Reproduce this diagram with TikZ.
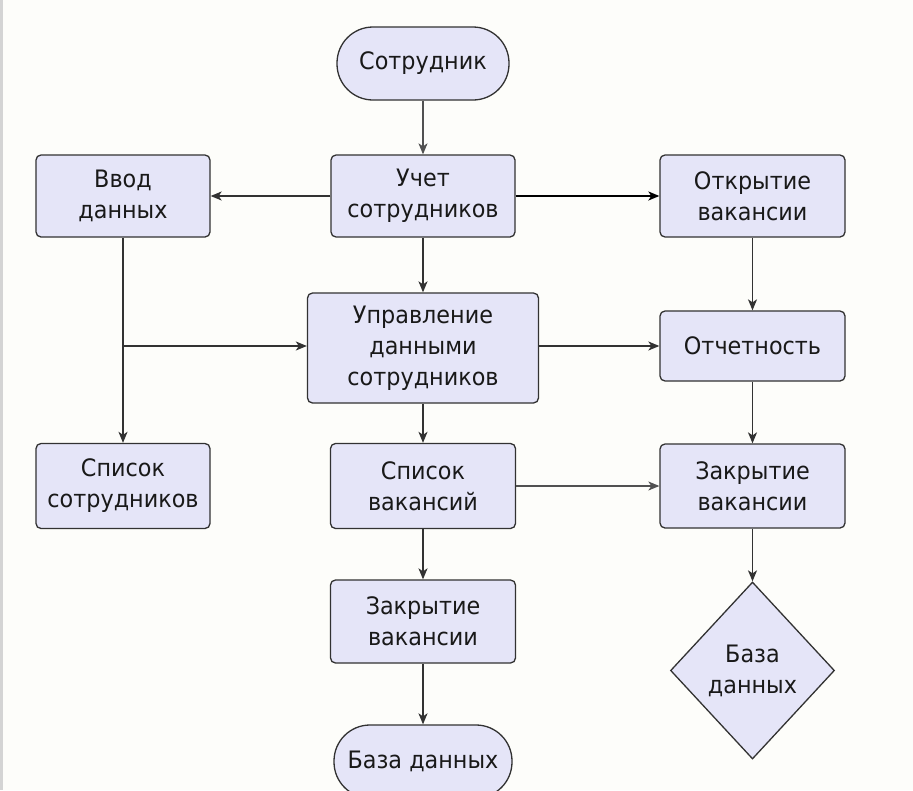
\documentclass[tikz,border=0pt]{standalone}
\usepackage{fontspec}
\setmainfont{DejaVu Sans}[FakeStretch=0.93]
\usetikzlibrary{arrows.meta,shapes.geometric}
\definecolor{boxfill}{RGB}{229,229,248}
\definecolor{boxline}{RGB}{50,50,50}
\definecolor{bgc}{RGB}{253,253,250}
\definecolor{txt}{RGB}{25,25,25}
\tikzset{
  base/.style={draw=boxline, fill=boxfill, line width=1.3pt, text=txt, align=center,
    font=\fontsize{24}{31}\selectfont, inner sep=0pt},
  procbox/.style={base, rectangle, rounded corners=5pt},
  termbox/.style={base, rectangle, rounded corners=36pt},
  decbox/.style={base, diamond, aspect=0.93},
  arr/.style={draw=boxline, line width=1.4pt, -{Stealth[length=11pt,width=9pt,inset=3pt]}},
  thinarr/.style={arr, draw=boxline!85, line width=1.1pt},
  boldarr/.style={arr, draw=black, line width=1.8pt}
}
\begin{document}
\begin{tikzpicture}[x=1pt,y=-1pt]
\useasboundingbox (0,0) rectangle (913,790);
\clip (0,0) rectangle (913,790);
\fill[bgc] (0,0) rectangle (913,790);
\fill[black!17] (0,0) rectangle (2.5,790);

\node[termbox, minimum width=172pt, minimum height=73pt] (sotr) at (423,63.5) {Сотрудник};
\node[procbox, minimum width=184pt, minimum height=82pt] (uchet) at (423,196) {Учет\\сотрудников};
\node[procbox, minimum width=174pt, minimum height=82pt] (vvod) at (123,196) {Ввод\\данных};
\node[procbox, minimum width=185pt, minimum height=82pt] (otkr) at (752.5,196) {Открытие\\вакансии};
\node[procbox, minimum width=231pt, minimum height=110pt] (upr) at (423,348) {Управление\\данными\\сотрудников};
\node[procbox, minimum width=185pt, minimum height=70pt] (otch) at (752.5,346) {Отчетность};
\node[procbox, minimum width=174pt, minimum height=85pt] (spsotr) at (123,486) {Список\\сотрудников};
\node[procbox, minimum width=185pt, minimum height=85pt] (spvak) at (423,486) {Список\\вакансий};
\node[procbox, minimum width=185pt, minimum height=84pt] (zakrR) at (752.5,486) {Закрытие\\вакансии};
\node[procbox, minimum width=185pt, minimum height=83pt] (zakrM) at (423,621.5) {Закрытие\\вакансии};
\node[decbox, minimum width=164pt, minimum height=177pt] (bdR) at (752.5,670.5) {База\\данных};
\node[termbox, minimum width=178pt, minimum height=73pt] (bdM) at (423,761.5) {База данных};

\draw[thinarr] (sotr) -- (uchet);
\draw[arr] (uchet.west) -- (vvod.east);
\draw[boldarr] (uchet.east) -- (otkr.west);
\draw[arr] (uchet) -- (upr);
\draw[arr] (vvod) -- (spsotr);
\coordinate (branch) at (vvod.south |- otch.west);
\draw[arr] (branch) -- (branch -| upr.west);
\draw[arr] (upr.east |- otch.west) -- (otch.west);
\draw[arr] (otkr) -- (otch);
\draw[arr] (otch) -- (zakrR);
\draw[arr] (upr) -- (spvak);
\draw[thinarr] (spvak.east) -- (zakrR.west);
\draw[arr] (spvak) -- (zakrM);
\draw[arr] (zakrM) -- (bdM);
\draw[arr] (zakrR) -- (bdR);
\end{tikzpicture}
\end{document}
